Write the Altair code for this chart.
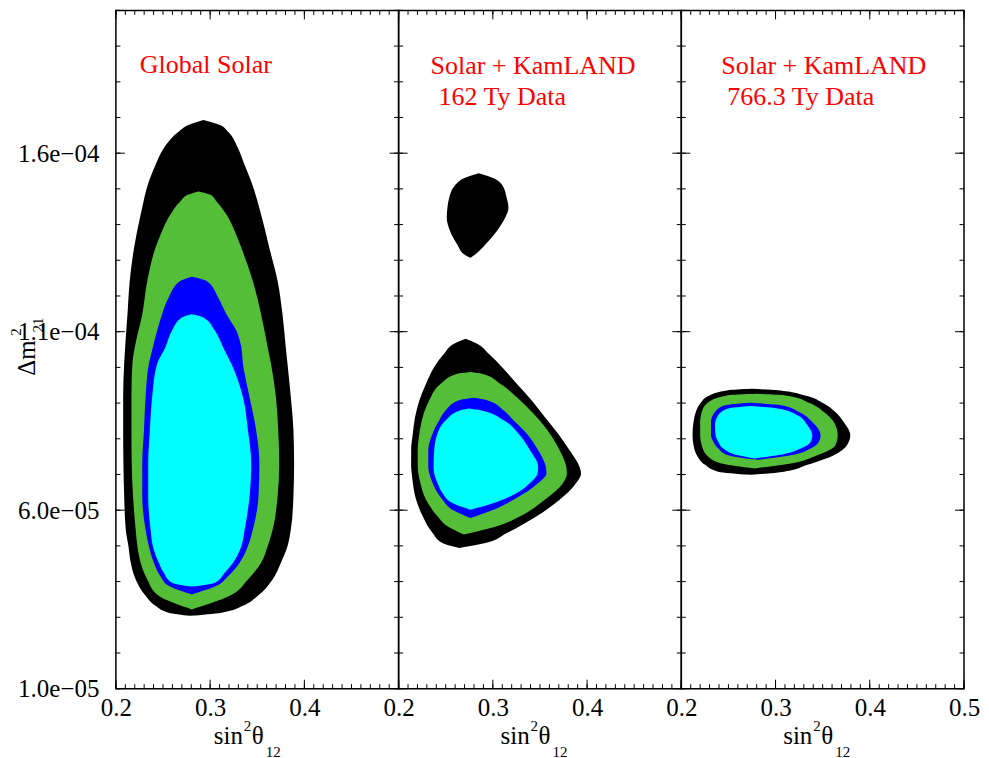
import altair as alt
import pandas as pd

FONT = "Liberation Serif"

# ---------------- data ----------------
panel_notes = [["Global Solar"], ["Solar + KamLAND", "162 Ty Data"], ["Solar + KamLAND", "766.3 Ty Data"]]
x_tick_values = [[0.2, 0.3, 0.4], [0.2, 0.3, 0.4], [0.2, 0.3, 0.4, 0.5]]
y_tick_values = [1.0e-5, 6.0e-5, 1.1e-4, 1.6e-4]
y_tick_labels = ["1.0e\u221205", "6.0e\u221205", "1.1e\u221204", "1.6e\u221204"]

levels = ["99.73% CL", "99% CL", "95% CL", "90% CL"]
level_colors = ["#000000", "#54be38", "#0000ff", "#00ffff"]

# Panel 1 : Global Solar  (dm2, left edge sin2, right edge sin2)
p1_black_dm2 = [16.93e-5, 16.79e-5, 16.60e-5, 16.14e-5, 15.67e-5, 15.21e-5, 14.28e-5, 13.35e-5, 12.42e-5, 11.49e-5, 10.56e-5, 10.10e-5, 9.17e-5, 8.24e-5, 7.31e-5, 6.38e-5, 5.45e-5, 4.99e-5, 4.53e-5, 4.06e-5, 3.60e-5, 3.32e-5, 3.13e-5, 3.04e-5]
p1_black_lo = [0.2928, 0.2770, 0.2665, 0.2508, 0.2420, 0.2350, 0.2263, 0.2193, 0.2147, 0.2123, 0.2098, 0.2088, 0.2077, 0.2077, 0.2080, 0.2088, 0.2105, 0.2133, 0.2158, 0.2210, 0.2315, 0.2420, 0.2560, 0.2788]
p1_black_hi = [0.2928, 0.3103, 0.3190, 0.3296, 0.3366, 0.3436, 0.3541, 0.3628, 0.3716, 0.3768, 0.3803, 0.3821, 0.3856, 0.3884, 0.3891, 0.3884, 0.3856, 0.3821, 0.3751, 0.3663, 0.3506, 0.3348, 0.3120, 0.2788]

p1_green_dm2 = [14.93e-5, 14.84e-5, 14.65e-5, 14.28e-5, 13.82e-5, 13.35e-5, 12.42e-5, 11.49e-5, 10.56e-5, 10.10e-5, 9.17e-5, 8.24e-5, 7.31e-5, 6.38e-5, 5.45e-5, 4.99e-5, 4.53e-5, 4.06e-5, 3.60e-5, 3.22e-5]
p1_green_lo = [0.2875, 0.2770, 0.2683, 0.2578, 0.2490, 0.2420, 0.2333, 0.2280, 0.2200, 0.2175, 0.2165, 0.2165, 0.2168, 0.2182, 0.2210, 0.2228, 0.2263, 0.2333, 0.2455, 0.2805]
p1_green_hi = [0.2875, 0.2998, 0.3068, 0.3173, 0.3261, 0.3331, 0.3453, 0.3541, 0.3611, 0.3646, 0.3698, 0.3723, 0.3733, 0.3716, 0.3663, 0.3611, 0.3541, 0.3401, 0.3208, 0.2805]

p1_blue_dm2 = [12.54e-5, 12.42e-5, 11.96e-5, 11.49e-5, 11.03e-5, 10.56e-5, 10.10e-5, 9.17e-5, 8.24e-5, 7.31e-5, 6.38e-5, 5.45e-5, 4.99e-5, 4.53e-5, 4.15e-5, 3.88e-5, 3.64e-5]
p1_blue_lo = [0.2805, 0.2683, 0.2560, 0.2490, 0.2438, 0.2392, 0.2350, 0.2315, 0.2298, 0.2280, 0.2280, 0.2315, 0.2350, 0.2403, 0.2473, 0.2560, 0.2805]
p1_blue_hi = [0.2805, 0.2963, 0.3085, 0.3173, 0.3278, 0.3331, 0.3348, 0.3418, 0.3488, 0.3523, 0.3513, 0.3453, 0.3401, 0.3313, 0.3190, 0.3068, 0.2805]

p1_cyan_dm2 = [11.49e-5, 11.40e-5, 11.03e-5, 10.56e-5, 10.10e-5, 9.17e-5, 8.24e-5, 7.31e-5, 6.38e-5, 5.45e-5, 4.99e-5, 4.53e-5, 4.25e-5, 3.97e-5, 3.86e-5]
p1_cyan_lo = [0.2805, 0.2700, 0.2595, 0.2525, 0.2438, 0.2385, 0.2361, 0.2343, 0.2343, 0.2368, 0.2392, 0.2455, 0.2508, 0.2595, 0.2805]
p1_cyan_hi = [0.2805, 0.2928, 0.3050, 0.3138, 0.3225, 0.3348, 0.3401, 0.3436, 0.3418, 0.3366, 0.3331, 0.3243, 0.3155, 0.3050, 0.2805]

# Panel 2 : Solar + KamLAND, 162 Ty
p2_black_dm2 = [10.80e-5, 10.66e-5, 10.38e-5, 10.01e-5, 9.54e-5, 9.08e-5, 8.61e-5, 8.15e-5, 7.68e-5, 7.22e-5, 7.03e-5, 6.76e-5, 6.29e-5, 5.83e-5, 5.36e-5, 5.08e-5, 4.94e-5]
p2_black_lo = [0.2711, 0.2588, 0.2483, 0.2378, 0.2291, 0.2221, 0.2175, 0.2151, 0.2133, 0.2133, 0.2140, 0.2151, 0.2186, 0.2256, 0.2361, 0.2466, 0.2641]
p2_black_hi = [0.2711, 0.2833, 0.2956, 0.3096, 0.3254, 0.3411, 0.3551, 0.3691, 0.3814, 0.3919, 0.3936, 0.3884, 0.3709, 0.3464, 0.3148, 0.2921, 0.2641]

p2_island_dm2 = [15.44e-5, 15.30e-5, 15.12e-5, 14.74e-5, 14.47e-5, 14.19e-5, 13.82e-5, 13.44e-5, 13.17e-5, 13.07e-5]
p2_island_lo = [0.2851, 0.2693, 0.2606, 0.2536, 0.2518, 0.2511, 0.2546, 0.2623, 0.2693, 0.2763]
p2_island_hi = [0.2851, 0.3008, 0.3096, 0.3148, 0.3166, 0.3131, 0.3043, 0.2921, 0.2816, 0.2763]

p2_green_dm2 = [9.87e-5, 9.82e-5, 9.54e-5, 9.08e-5, 8.61e-5, 8.15e-5, 7.68e-5, 7.22e-5, 7.03e-5, 6.76e-5, 6.29e-5, 5.83e-5, 5.55e-5, 5.32e-5]
p2_green_lo = [0.2763, 0.2623, 0.2448, 0.2326, 0.2256, 0.2221, 0.2203, 0.2203, 0.2210, 0.2231, 0.2291, 0.2413, 0.2518, 0.2693]
p2_green_hi = [0.2763, 0.2886, 0.3078, 0.3289, 0.3464, 0.3604, 0.3709, 0.3779, 0.3786, 0.3744, 0.3551, 0.3289, 0.3043, 0.2693]

p2_blue_dm2 = [9.15e-5, 9.08e-5, 8.80e-5, 8.52e-5, 8.15e-5, 7.68e-5, 7.22e-5, 7.03e-5, 6.76e-5, 6.29e-5, 6.01e-5, 5.78e-5]
p2_blue_lo = [0.2798, 0.2641, 0.2501, 0.2431, 0.2361, 0.2315, 0.2315, 0.2326, 0.2361, 0.2466, 0.2571, 0.2763]
p2_blue_hi = [0.2798, 0.2938, 0.3113, 0.3218, 0.3359, 0.3481, 0.3562, 0.3569, 0.3481, 0.3218, 0.3008, 0.2763]

p2_cyan_dm2 = [8.85e-5, 8.80e-5, 8.52e-5, 8.15e-5, 7.68e-5, 7.22e-5, 7.03e-5, 6.76e-5, 6.48e-5, 6.20e-5, 6.01e-5]
p2_cyan_lo = [0.2746, 0.2658, 0.2501, 0.2413, 0.2378, 0.2371, 0.2378, 0.2413, 0.2466, 0.2571, 0.2763]
p2_cyan_hi = [0.2746, 0.2868, 0.3113, 0.3271, 0.3394, 0.3481, 0.3474, 0.3394, 0.3254, 0.3008, 0.2763]

# Panel 3 : Solar + KamLAND, 766.3 Ty
p3_black_dm2 = [9.40e-5, 9.36e-5, 9.22e-5, 8.99e-5, 8.75e-5, 8.47e-5, 8.10e-5, 7.82e-5, 7.54e-5, 7.27e-5, 7.08e-5, 6.99e-5]
p3_black_lo = [0.2742, 0.2497, 0.2305, 0.2200, 0.2154, 0.2130, 0.2119, 0.2130, 0.2165, 0.2252, 0.2392, 0.2742]
p3_black_hi = [0.2742, 0.3022, 0.3303, 0.3513, 0.3635, 0.3723, 0.3793, 0.3758, 0.3618, 0.3338, 0.3092, 0.2742]

p3_green_dm2 = [9.26e-5, 9.22e-5, 8.99e-5, 8.75e-5, 8.47e-5, 8.10e-5, 7.82e-5, 7.54e-5, 7.31e-5, 7.17e-5]
p3_green_lo = [0.2812, 0.2497, 0.2270, 0.2217, 0.2200, 0.2200, 0.2217, 0.2270, 0.2427, 0.2777]
p3_green_hi = [0.2812, 0.3092, 0.3373, 0.3513, 0.3618, 0.3660, 0.3635, 0.3443, 0.3162, 0.2777]

p3_blue_dm2 = [9.01e-5, 8.94e-5, 8.75e-5, 8.47e-5, 8.10e-5, 7.92e-5, 7.73e-5, 7.54e-5, 7.41e-5]
p3_blue_lo = [0.2742, 0.2462, 0.2357, 0.2315, 0.2315, 0.2340, 0.2392, 0.2497, 0.2812]
p3_blue_hi = [0.2742, 0.3057, 0.3250, 0.3390, 0.3478, 0.3460, 0.3373, 0.3162, 0.2812]

p3_cyan_dm2 = [8.92e-5, 8.85e-5, 8.66e-5, 8.38e-5, 8.10e-5, 7.92e-5, 7.73e-5, 7.54e-5, 7.45e-5]
p3_cyan_lo = [0.2742, 0.2497, 0.2392, 0.2357, 0.2364, 0.2392, 0.2445, 0.2602, 0.2777]
p3_cyan_hi = [0.2742, 0.3022, 0.3232, 0.3338, 0.3390, 0.3373, 0.3267, 0.3022, 0.2777]

contours = [
    (0, levels[0], "main", p1_black_dm2, p1_black_lo, p1_black_hi),
    (0, levels[1], "main", p1_green_dm2, p1_green_lo, p1_green_hi),
    (0, levels[2], "main", p1_blue_dm2, p1_blue_lo, p1_blue_hi),
    (0, levels[3], "main", p1_cyan_dm2, p1_cyan_lo, p1_cyan_hi),
    (1, levels[0], "main", p2_black_dm2, p2_black_lo, p2_black_hi),
    (1, levels[0], "island", p2_island_dm2, p2_island_lo, p2_island_hi),
    (1, levels[1], "main", p2_green_dm2, p2_green_lo, p2_green_hi),
    (1, levels[2], "main", p2_blue_dm2, p2_blue_lo, p2_blue_hi),
    (1, levels[3], "main", p2_cyan_dm2, p2_cyan_lo, p2_cyan_hi),
    (2, levels[0], "main", p3_black_dm2, p3_black_lo, p3_black_hi),
    (2, levels[1], "main", p3_green_dm2, p3_green_lo, p3_green_hi),
    (2, levels[2], "main", p3_blue_dm2, p3_blue_lo, p3_blue_hi),
    (2, levels[3], "main", p3_cyan_dm2, p3_cyan_lo, p3_cyan_hi),
]

rows = []
for panel, lev, poly, ys, lo, hi in contours:
    for y, a, b in zip(ys, lo, hi):
        rows.append({"panel": panel, "level": lev, "poly": poly, "dm2": y, "lo": a, "hi": b})
df = pd.DataFrame(rows)

# tick positions (minor every 0.01 in x, every 1e-5 in y)
x_minor_ticks = [round(0.20 + 0.01 * k, 2) for k in range(31)]
x_major_ticks = [0.2, 0.3, 0.4, 0.5]
y_minor_ticks = [round(1e-5 * (k + 1), 7) for k in range(20)]
y_major_ticks = y_tick_values

# ---------------- chart ----------------
W, H = 283, 679
MINOR, MAJOR = 4.5, 9
xscale = alt.Scale(domain=[0.2, 0.5], nice=False, zero=False)
yscale = alt.Scale(domain=[1e-5, 2e-4], nice=False, zero=False)

label_expr = " : ".join(
    f"abs(datum.value - {v}) < 1e-8 ? '{t}'" for v, t in zip(y_tick_values, y_tick_labels)
) + " : ''"


def make_panel(p):
    xaxis = alt.Axis(values=x_tick_values[p], format=".1f", title=None, ticks=False, domain=False,
                     grid=False, labelFont=FONT, labelFontSize=25, labelColor="black",
                     labelPadding=7, labelFlush=False, labelOverlap=False)
    if p == 0:
        yaxis = alt.Axis(values=y_tick_values, labelExpr=label_expr, title=None, ticks=False,
                         domain=False, grid=False, labelFont=FONT, labelFontSize=25,
                         labelColor="black", labelPadding=17, labelFlush=False, labelOverlap=False)
    else:
        yaxis = None

    layers = []
    d = df[df.panel == p]
    for lev, col in zip(levels, level_colors):
        dd = d[d.level == lev]
        layers.append(
            alt.Chart(dd).mark_area(orient="horizontal", interpolate="monotone", color=col).encode(
                y=alt.Y("dm2:Q", scale=yscale, axis=yaxis),
                x=alt.X("lo:Q", scale=xscale, axis=xaxis, stack=None),
                x2="hi:Q",
                detail="poly:N",
            )
        )

    # inward ticks on all four sides
    for vals, ln in ((x_minor_ticks, MINOR), (x_major_ticks, MAJOR)):
        base = alt.Chart(pd.DataFrame({"v": vals})).mark_rule(color="black", strokeWidth=1)
        xe = alt.X("v:Q", scale=xscale, axis=xaxis)
        layers.append(base.encode(x=xe, y=alt.value(H - ln), y2=alt.value(H)))
        layers.append(base.encode(x=xe, y=alt.value(0), y2=alt.value(ln)))
    for vals, ln in ((y_minor_ticks, MINOR), (y_major_ticks, MAJOR)):
        base = alt.Chart(pd.DataFrame({"v": vals})).mark_rule(color="black", strokeWidth=1)
        ye = alt.Y("v:Q", scale=yscale, axis=yaxis)
        layers.append(base.encode(y=ye, x=alt.value(0), x2=alt.value(ln)))
        layers.append(base.encode(y=ye, x=alt.value(W - ln), x2=alt.value(W)))

    # red annotations
    note_pos = [[(24, 63)], [(32, 64), (40, 95)], [(40, 64), (46, 95)]]
    for txt, (nx, ny) in zip(panel_notes[p], note_pos[p]):
        layers.append(
            alt.Chart(pd.DataFrame({"t": [txt]})).mark_text(
                align="left", baseline="alphabetic", font=FONT, fontSize=26, color="#ff0000"
            ).encode(text="t:N", x=alt.value(nx), y=alt.value(ny))
        )

    # x title  sin^2 theta_12
    sx = [98, 102, 102][p]
    pieces = [("sin", sx, 734, 25), ("2", sx + 30, 721, 15), ("\u03b8", sx + 38, 734, 25), ("12", sx + 52, 747, 15)]
    for txt, tx, ty, fs in pieces:
        layers.append(
            alt.Chart(pd.DataFrame({"t": [txt]})).mark_text(
                align="left", baseline="alphabetic", font=FONT, fontSize=fs, color="black"
            ).encode(text="t:N", x=alt.value(tx), y=alt.value(ty))
        )

    # y title  Delta m^2_21 (rotated)
    if p == 0:
        ypieces = [("\u0394m", -89, 348, 25), ("2", -99.5, 322, 15), ("21", -78, 315, 15)]
        for txt, tx, ty, fs in ypieces:
            layers.append(
                alt.Chart(pd.DataFrame({"t": [txt]})).mark_text(
                    align="center", baseline="middle", font=FONT, fontSize=fs, color="black", angle=270
                ).encode(text="t:N", x=alt.value(tx), y=alt.value(ty))
            )

    return alt.layer(*layers).properties(width=W, height=H)


chart = alt.hconcat(make_panel(0), make_panel(1), make_panel(2), spacing=0, bounds="flush").properties(
    padding={"left": 0, "top": 0, "right": 0, "bottom": 0}, background="white"
).configure_view(stroke="black", strokeWidth=1.5)

chart.save("out.html", embed_options={"renderer": "svg", "actions": False})
